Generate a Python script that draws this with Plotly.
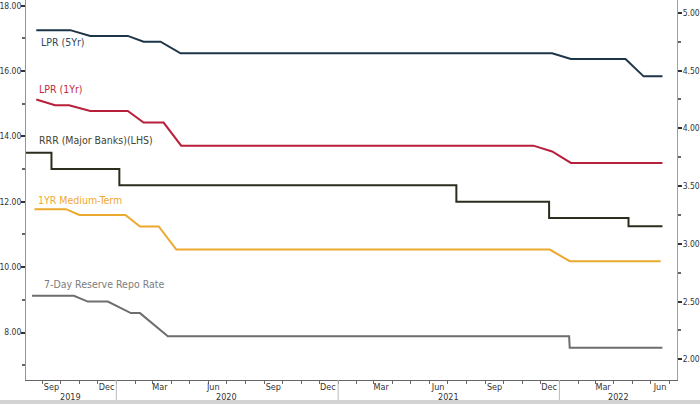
import plotly.graph_objects as go

# ---------------- data ----------------
lpr5_dates = ["2019-08-22", "2019-10-17", "2019-11-19", "2020-01-20", "2020-02-15", "2020-03-14",
              "2020-04-16", "2021-12-20", "2022-01-20", "2022-04-20", "2022-05-20", "2022-06-20"]
lpr5_vals = [4.85, 4.85, 4.80, 4.80, 4.75, 4.75, 4.65, 4.65, 4.60, 4.60, 4.45, 4.45]

lpr1_dates = ["2019-08-22", "2019-09-22", "2019-10-15", "2019-11-19", "2020-01-20", "2020-02-15",
              "2020-03-19", "2020-04-17", "2021-11-19", "2021-12-20", "2022-01-20", "2022-06-20"]
lpr1_vals = [4.25, 4.20, 4.20, 4.15, 4.15, 4.05, 4.05, 3.85, 3.85, 3.80, 3.70, 3.70]

rrr_dates = ["2019-08-01", "2019-09-16", "2020-01-06", "2021-07-15", "2021-12-15", "2022-04-25", "2022-06-20"]
rrr_vals = [13.5, 13.0, 12.5, 12.0, 11.5, 11.25, 11.25]

mlf_dates = ["2019-08-19", "2019-10-10", "2019-11-01", "2020-01-16", "2020-02-09", "2020-03-11",
             "2020-04-09", "2021-12-16", "2022-01-18", "2022-06-17"]
mlf_vals = [3.30, 3.30, 3.25, 3.25, 3.15, 3.15, 2.95, 2.95, 2.85, 2.85]

repo_dates = ["2019-08-15", "2019-10-23", "2019-11-15", "2019-12-18", "2020-01-25", "2020-02-09",
              "2020-03-26", "2022-01-17", "2022-01-18", "2022-06-20"]
repo_vals = [2.55, 2.55, 2.50, 2.50, 2.40, 2.40, 2.20, 2.20, 2.10, 2.10]

series_names = ["LPR (5Yr)", "LPR (1Yr)", "RRR (Major Banks)(LHS)", "1YR Medium-Term", "7-Day Reserve Repo Rate"]

month_tick_dates = ["2019-09-16", "2019-12-16", "2020-03-13", "2020-06-09", "2020-09-16", "2020-12-15",
                    "2021-03-13", "2021-06-15", "2021-09-16", "2021-12-15", "2022-03-14", "2022-06-16"]
month_tick_text = ["Sep", "Dec", "Mar", "Jun", "Sep", "Dec", "Mar", "Jun", "Sep", "Dec", "Mar", "Jun"]

year_labels = ["2019", "2020", "2021", "2022"]
year_label_dates = ["2019-10-18", "2020-07-01", "2021-07-02", "2022-04-08"]
year_boundaries = ["2020-01-01", "2021-01-01", "2022-01-01"]

# ---------------- styling ----------------
W, H = 700, 404
ML, MR, MT, MB = 26, 23, 0, 24
PW, PH = W - ML - MR, H - MT - MB

line_colors = ["#1d3549", "#b81f3a", "#2b2e1c", "#eba92e", "#6e6e6e"]
text_colors = ["#2e4a5c", "#c42a3c", "#44442f", "#f0a830", "#7d7d7d"]
label_px = [(39, 42.5), (37, 88.5), (37, 140), (36, 200), (41.5, 284)]
FONT = "Tahoma, 'DejaVu Sans Condensed', 'Liberation Sans', sans-serif"

fig = go.Figure()
fig.add_trace(go.Scatter(x=lpr5_dates, y=lpr5_vals, mode="lines", yaxis="y2",
                         line=dict(color=line_colors[0], width=2), name=series_names[0]))
fig.add_trace(go.Scatter(x=lpr1_dates, y=lpr1_vals, mode="lines", yaxis="y2",
                         line=dict(color=line_colors[1], width=2), name=series_names[1]))
fig.add_trace(go.Scatter(x=rrr_dates, y=rrr_vals, mode="lines", yaxis="y",
                         line=dict(color=line_colors[2], width=2, shape="hv"), name=series_names[2]))
fig.add_trace(go.Scatter(x=mlf_dates, y=mlf_vals, mode="lines", yaxis="y2",
                         line=dict(color=line_colors[3], width=2), name=series_names[3]))
fig.add_trace(go.Scatter(x=repo_dates, y=repo_vals, mode="lines", yaxis="y2",
                         line=dict(color=line_colors[4], width=2), name=series_names[4]))

annotations = []
for name, col, (px, py) in zip(series_names, text_colors, label_px):
    annotations.append(dict(text=name, xref="paper", yref="paper",
                            x=(px - ML) / PW, y=(MT + PH - py) / PH,
                            xanchor="left", yanchor="middle", showarrow=False,
                            font=dict(family=FONT, size=10.5, color=col)))
for lab, d in zip(year_labels, year_label_dates):
    annotations.append(dict(text=lab, xref="x", yref="paper", x=d, y=-17 / PH,
                            xanchor="center", yanchor="middle", showarrow=False,
                            font=dict(family=FONT, size=9, color="#333333")))

shapes = []
for d in year_boundaries:
    shapes.append(dict(type="line", xref="x", yref="paper", x0=d, x1=d, y0=0, y1=-20 / PH,
                       line=dict(color="#bbbbbb", width=1)))
shapes.append(dict(type="rect", xref="paper", yref="paper", x0=-ML / PW, x1=(W - ML) / PW,
                   y0=-MB / PH, y1=-20 / PH, fillcolor="#d3d3d3", line=dict(width=0), layer="above"))

fig.update_layout(
    width=W, height=H, margin=dict(l=ML, r=MR, t=MT, b=MB),
    paper_bgcolor="white", plot_bgcolor="white", showlegend=False,
    font=dict(family=FONT, size=9, color="#333333"),
    xaxis=dict(type="date", range=["2019-08-05", "2022-07-14"], showgrid=False, zeroline=False,
               showline=True, linecolor="#666666", linewidth=1,
               tickmode="array", tickvals=month_tick_dates, ticktext=month_tick_text, ticks="",
               ticklen=0, tickfont=dict(size=9, color="#333333"), ticklabeloverflow="allow",
               ticklabelstandoff=-2,
               minor=dict(ticks="outside", dtick="M1", tick0="2019-08-01", ticklen=3,
                          tickcolor="#666666", showgrid=False),
               automargin=False),
    yaxis=dict(range=[6.547, 18.17], dtick=2, tick0=0, tickformat=".2f", showgrid=False, zeroline=False,
               showline=True, linecolor="#8a98a6", linewidth=1, ticks="outside", ticklen=4,
               tickwidth=2, tickcolor="#333333", tickfont=dict(size=8.5, color="#333333"),
               ticklabeloverflow="allow", ticklabelstandoff=-2,
               minor=dict(ticks="outside", dtick=1, ticklen=3, tickcolor="#666666", showgrid=False),
               automargin=False),
    yaxis2=dict(range=[1.821, 5.111], dtick=0.5, tick0=0, tickformat=".2f", overlaying="y", side="right",
                showgrid=False, zeroline=False, showline=True, linecolor="#8fa4b8", linewidth=1,
                ticks="outside", ticklen=4, tickwidth=2, tickcolor="#333333",
                tickfont=dict(size=8.5, color="#333333"), ticklabeloverflow="allow",
                ticklabelstandoff=-1,
                minor=dict(ticks="outside", dtick=0.25, ticklen=3, tickcolor="#666666", showgrid=False),
                automargin=False),
    annotations=annotations, shapes=shapes,
)

fig.write_html("out.html", config={"displayModeBar": False},
               post_script="document.body.style.margin='0';")
